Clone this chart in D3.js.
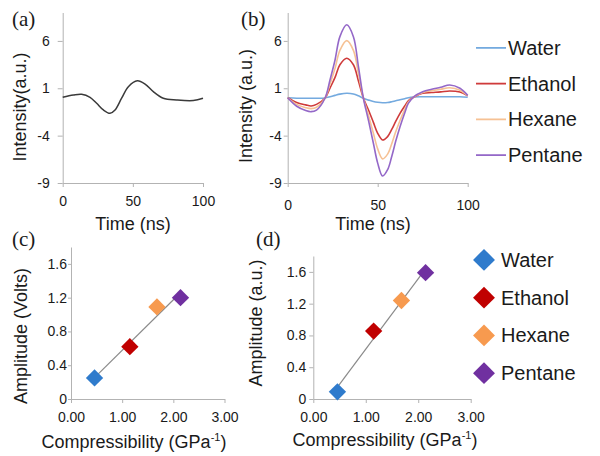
<!DOCTYPE html>
<html><head><meta charset="utf-8">
<script src="https://cdn.jsdelivr.net/npm/d3@7"></script>
<style>body{margin:0;background:#fff}svg{display:block}</style>
</head><body>
<script>
// ---- data ----
const timeA = [0, 7.6, 13.5, 19.5, 24.2, 29, 33.7, 37.3, 42, 46.8, 53.2, 58.7, 64.6, 71.7, 81.2, 93.1, 100];
const signalA = [0.05, 0.29, 0.37, 0.05, -0.58, -1.29, -1.64, -1.29, -0.05, 1.17, 1.8, 1.45, 0.64, -0.05, -0.24, -0.3, -0.05];

const timeB = [0, 5, 10, 13, 16, 20.7, 23.5, 26.3, 29, 32.8, 36.5, 39.3, 42, 45, 47.6, 50, 52.7, 55.5, 57.8, 60, 62.4, 65, 67, 70, 75, 80, 85, 90, 95.7, 100];
const water   = [0, -0.05, -0.05, -0.05, -0.05, -0.02, 0.1, 0.25, 0.38, 0.47, 0.4, 0.2, -0.05, -0.25, -0.4, -0.48, -0.52, -0.5, -0.42, -0.32, -0.22, -0.1, 0, 0.08, 0.1, 0.1, 0.1, 0.1, 0.1, 0.05];
const ethanol = [0, -0.5, -0.75, -0.87, -0.7, -0.05, 1.02, 2.15, 3.48, 4.17, 3.48, 1.77, 0, -1.35, -2.6, -3.75, -4.46, -4.1, -3.35, -2.5, -1.65, -0.87, -0.32, 0.05, 0.47, 0.55, 0.62, 0.72, 0.6, 0.2];
const hexane  = [0, -0.7, -1.05, -1.15, -1.0, -0.05, 1.45, 3.1, 5.0, 6.03, 5.0, 2.55, 0, -1.95, -3.75, -5.4, -6.45, -5.95, -4.85, -3.6, -2.4, -1.25, -0.47, 0.08, 0.55, 0.75, 0.9, 1.05, 0.8, 0.22];
const pentane = [0, -0.9, -1.35, -1.47, -1.3, -0.05, 1.88, 3.99, 6.45, 7.7, 6.45, 3.28, 0, -2.5, -4.8, -6.9, -8.26, -7.6, -6.2, -4.6, -3.05, -1.6, -0.6, 0.1, 0.64, 0.9, 1.1, 1.35, 1.0, 0.25];

const liquids = ["Water", "Ethanol", "Hexane", "Pentane"];
const compressibility = [0.46, 1.15, 1.68, 2.14];
const amplitudeVolts = [0.25, 0.62, 1.09, 1.2];
const amplitudeAU = [0.09, 0.855, 1.24, 1.59];

const intensityTicks = [-9, -4, 1, 6];
const timeTicks = [0, 50, 100];
const ampTicks = [0, 0.4, 0.8, 1.2, 1.6];
const compTicks = [0, 1, 2, 3];

const lineColors = ["#74aadf", "#cf3b3b", "#f6c194", "#9468c8"];
const markerColors = ["#2f7bcc", "#c00000", "#f79a4f", "#7030a0"];
const seriesB = [water, ethanol, hexane, pentane];

// ---- drawing ----
const SANS = "Arial, 'Liberation Sans', sans-serif";
const SERIF = "'Liberation Serif', 'Times New Roman', serif";
const svg = d3.select("body").append("svg").attr("width", 600).attr("height", 456)
  .style("font-family", SANS);

function styleAxis(g) {
  g.selectAll(".domain").attr("stroke", "#b3b3b3").attr("stroke-width", 1);
  g.selectAll(".tick line").attr("stroke", "#b3b3b3");
  g.selectAll(".tick text").style("font-size", "14px").style("font-family", SANS).attr("fill", "#1a1a1a");
}

function axes(x, y, xt, yt, xfmt, yfmt, ypad, xpad, ysize) {
  const g = svg.append("g");
  g.append("g").attr("transform", `translate(0,${y.range()[0]})`)
    .call(d3.axisBottom(x).tickValues(xt).tickFormat(xfmt).tickSize(4).tickSizeOuter(0).tickPadding(xpad))
    .call(styleAxis);
  g.append("g").attr("transform", `translate(${x.range()[0]},0)`)
    .call(d3.axisLeft(y).tickValues(yt).tickFormat(yfmt).tickSize(ysize).tickSizeOuter(0).tickPadding(ypad))
    .call(styleAxis);
}

function title(x, y, txt, rot, size) {
  const t = svg.append("text").attr("text-anchor", "middle").style("font-size", (size || 18) + "px")
    .attr("fill", "#1a1a1a")
    .attr("transform", `translate(${x},${y})` + (rot ? " rotate(-90)" : ""));
  return t.text(txt);
}
function panelLabel(x, y, txt) {
  svg.append("text").attr("x", x).attr("y", y).style("font-size", "21px")
    .style("font-family", SERIF).attr("fill", "#1a1a1a").text(txt);
}
const intFmt = d => String(d);

// Panel (a)
const xa = d3.scaleLinear().domain([0, 100]).range([62.7, 203]);
const ya = d3.scaleLinear().domain([-9, 9]).range([183, 12.5]);
axes(xa, ya, timeTicks, intensityTicks, intFmt, intFmt, 8, 9, 5);
svg.append("path").datum(timeA.map((t, i) => [t, signalA[i]]))
  .attr("fill", "none").attr("stroke", "#3a3a3a").attr("stroke-width", 1.5)
  .attr("d", d3.line().x(d => xa(d[0])).y(d => ya(d[1])).curve(d3.curveCatmullRom));
title(133, 230, "Time (ns)");
title(26, 107, "Intensity(a.u.)", true);
panelLabel(12, 26, "(a)");

// Panel (b)
const xb = d3.scaleLinear().domain([0, 100]).range([287.7, 467.7]);
const yb = d3.scaleLinear().domain([-9, 9]).range([183, 12.5]);
axes(xb, yb, timeTicks, intensityTicks, intFmt, intFmt, 2, 13, 4);
seriesB.forEach((s, k) => {
  svg.append("path").datum(timeB.map((t, i) => [t, s[i]]))
    .attr("fill", "none").attr("stroke", lineColors[k]).attr("stroke-width", 1.6)
    .attr("d", d3.line().x(d => xb(d[0])).y(d => yb(d[1])).curve(d3.curveCatmullRom));
});
title(373, 230, "Time (ns)");
title(252, 106, "Intensity (a.u.)", true);
panelLabel(241, 26, "(b)");
const legB = d3.scaleBand().domain(liquids).range([30, 173]);
liquids.forEach((n, k) => {
  const cy = legB(n) + legB.bandwidth() / 2;
  svg.append("line").attr("x1", 476).attr("x2", 506).attr("y1", cy).attr("y2", cy)
    .attr("stroke", lineColors[k]).attr("stroke-width", 1.8);
  svg.append("text").attr("x", 508).attr("y", cy + 7).style("font-size", "20px").attr("fill", "#1a1a1a").text(n);
});

// scatter panels
const diamond = d3.symbol().type(d3.symbolSquare);
function scatter(x, y, vals) {
  const pts = compressibility.map((c, i) => [c, vals[i]]);
  const mx = d3.mean(pts, d => d[0]), my = d3.mean(pts, d => d[1]);
  const slope = d3.sum(pts, d => (d[0] - mx) * (d[1] - my)) / d3.sum(pts, d => (d[0] - mx) ** 2);
  const x0 = d3.min(compressibility), x1 = d3.max(compressibility);
  svg.append("line").attr("x1", x(x0)).attr("y1", y(my + slope * (x0 - mx)))
    .attr("x2", x(x1)).attr("y2", y(my + slope * (x1 - mx)))
    .attr("stroke", "#8a8a8a").attr("stroke-width", 1.2);
  pts.forEach((d, i) => {
    svg.append("path").attr("d", diamond.size(150)())
      .attr("transform", `translate(${x(d[0])},${y(d[1])}) rotate(45)`)
      .attr("fill", markerColors[i]);
  });
}
const ampFmt = d => d === 0 ? "0" : d3.format(".1f")(d);
const compFmt = d3.format(".2f");

function compTitle(cx, by) {
  const t = title(cx, by, "", false);
  t.append("tspan").text("Compressibility (GPa");
  t.append("tspan").style("font-size", "11px").attr("dy", -7).text("-1");
  t.append("tspan").attr("dy", 7).text(")");
}

// Panel (c)
const xc = d3.scaleLinear().domain([0, 3]).range([71, 224.5]);
const yc = d3.scaleLinear().domain([0, 1.8]).range([399, 247]);
axes(xc, yc, compTicks, ampTicks, compFmt, ampFmt, 1, 9, 3);
scatter(xc, yc, amplitudeVolts);
panelLabel(12, 246, "(c)");
title(27, 336, "Amplitude (Volts)", true);
compTitle(134, 448);

// Panel (d)
const xd = d3.scaleLinear().domain([0, 3]).range([313.3, 470.7]);
const yd = d3.scaleLinear().domain([0, 1.8]).range([399, 256]);
axes(xd, yd, compTicks, ampTicks, compFmt, ampFmt, 3, 9, 4);
scatter(xd, yd, amplitudeAU);
panelLabel(256, 246, "(d)");
title(262, 323, "Amplitude (a.u.)", true);
compTitle(385, 446);

// legend (d)
const legD = d3.scaleBand().domain(liquids).range([241, 392]);
liquids.forEach((n, k) => {
  const cy = legD(n) + legD.bandwidth() / 2;
  svg.append("path").attr("d", diamond.size(240)())
    .attr("transform", `translate(484,${cy}) rotate(45)`).attr("fill", markerColors[k]);
  svg.append("text").attr("x", 501).attr("y", cy + 7).style("font-size", "20px").attr("fill", "#1a1a1a").text(n);
});
</script>
</body></html>
